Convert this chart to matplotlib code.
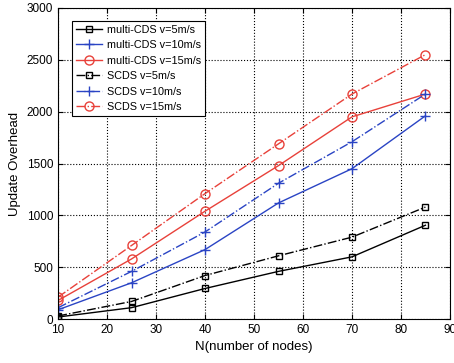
import matplotlib
matplotlib.use("Agg")
import matplotlib.pyplot as plt

nodes = [10, 25, 40, 55, 70, 85]
mcds_5 = [20, 110, 295, 460, 600, 905]
mcds_10 = [90, 350, 670, 1120, 1450, 1960]
mcds_15 = [180, 580, 1040, 1480, 1950, 2170]
scds_5 = [30, 170, 420, 610, 790, 1080]
scds_10 = [110, 460, 840, 1310, 1710, 2170]
scds_15 = [212, 710, 1210, 1690, 2170, 2550]

plt.rcParams['font.family'] = ['Liberation Sans', 'DejaVu Sans']
fig = plt.figure(figsize=(4.54, 3.63), dpi=100)
ax = fig.add_axes([0.128, 0.121, 0.863, 0.857])

black = 'black'
blue = '#2a44c4'
red = '#e8413a'
ms = 5
ax.plot(nodes, mcds_5, '-', color=black, marker='s', mfc='none', ms=ms, lw=1, label='multi-CDS v=5m/s')
ax.plot(nodes, mcds_10, '-', color=blue, marker='+', ms=7, lw=1, label='multi-CDS v=10m/s')
ax.plot(nodes, mcds_15, '-', color=red, marker='o', mfc='none', ms=6.5, lw=1, label='multi-CDS v=15m/s')
ax.plot(nodes, scds_5, '-.', color=black, marker='s', mfc='none', ms=ms, lw=1, label='SCDS v=5m/s')
ax.plot(nodes, scds_10, '-.', color=blue, marker='+', ms=7, lw=1, label='SCDS v=10m/s')
ax.plot(nodes, scds_15, '-.', color=red, marker='o', mfc='none', ms=6.5, lw=1, label='SCDS v=15m/s')

ax.set_xlim(10, 90)
ax.set_ylim(0, 3000)
ax.set_xticks(range(10, 91, 10))
ax.set_yticks(range(0, 3001, 500))
ax.grid(True, linestyle=':', color='black', lw=0.8)
ax.tick_params(direction='in', top=True, right=True, labelsize=8.5)
ax.set_xlabel('N(number of nodes)', fontsize=9.5)
ax.set_ylabel('Update Overhead', fontsize=9.5)
leg = ax.legend(loc='upper left', fontsize=7.8, fancybox=False, framealpha=1,
                edgecolor='black', borderpad=0.35, labelspacing=0.5, handlelength=2.4,
                handletextpad=0.5, borderaxespad=0,
                bbox_to_anchor=(0.036, 0.958))
leg.get_frame().set_linewidth(0.8)

fig.savefig('out.png', dpi=100)
